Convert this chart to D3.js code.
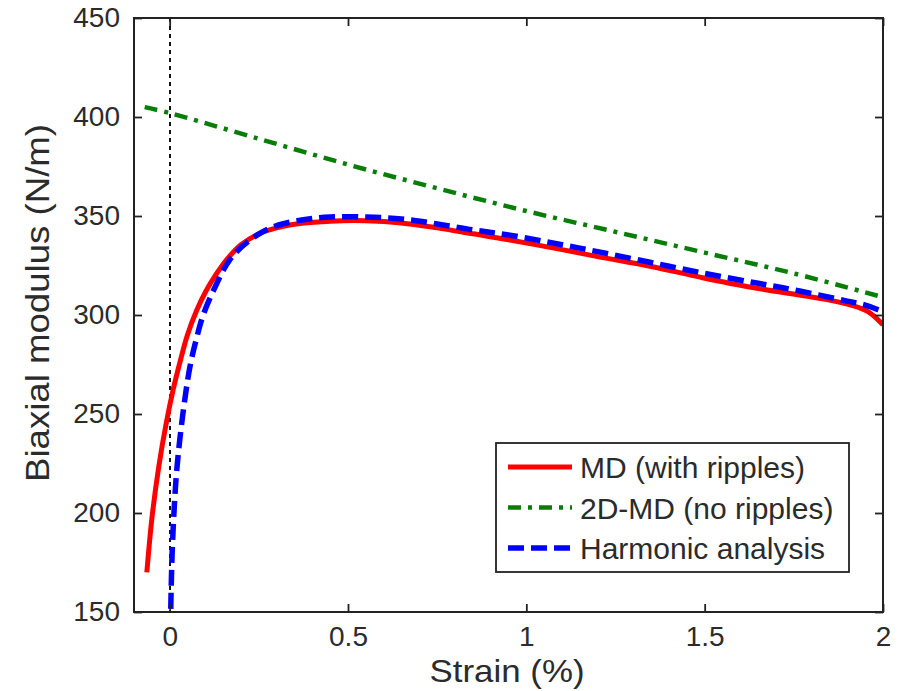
<!DOCTYPE html>
<html>
<head>
<meta charset="utf-8">
<script src="https://cdn.jsdelivr.net/npm/d3@7"></script>
<style>
  body { margin: 0; background: #fff; }
  text { font-family: "Liberation Sans", Arial, sans-serif; fill: #2b2b2b; }
</style>
</head>
<body>
<div id="chart"></div>
<script>
// Strain (%) / biaxial modulus (N/m)
const mdStrain   = [-0.064, -0.05, -0.03, -0.01, 0.01, 0.03, 0.05, 0.075, 0.1, 0.13, 0.16, 0.2, 0.25, 0.3, 0.37, 0.45, 0.55, 0.65, 0.75, 0.85, 0.95, 1.1, 1.2, 1.35, 1.49, 1.63, 1.77, 1.85, 1.91, 1.96, 2.0];
const mdModulus  = [170, 197, 224, 245, 262.5, 277, 290, 302, 311.5, 320.5, 328, 335.5, 341, 344, 346.3, 347.4, 347.6, 346.5, 344, 341, 338, 333, 329.5, 324.5, 319, 314, 310, 307.5, 305, 301.5, 295];

const md2dStrain  = [-0.07, 0, 0.25, 0.5, 0.75, 1.0, 1.25, 1.5, 1.75, 2.0];
const md2dModulus = [405, 402, 389, 376, 364, 352.5, 342, 331.5, 321, 309];

const harmStrain  = [0.002, 0.004, 0.007, 0.012, 0.02, 0.037, 0.057, 0.075, 0.094, 0.127, 0.169, 0.226, 0.29, 0.37, 0.45, 0.55, 0.65, 0.75, 0.85, 0.95, 1.1, 1.2, 1.35, 1.5, 1.65, 1.77, 1.9, 1.95, 2.0];
const harmModulus = [140, 160, 180, 200, 222, 250, 274, 288, 300, 314, 328, 338, 344.5, 348, 349.5, 349.5, 348.5, 346, 343, 340.4, 335.5, 332, 326.5, 321, 316, 312, 307, 305, 301.7];

const xTicks = [0, 0.5, 1, 1.5, 2];
const yTicks = [150, 200, 250, 300, 350, 400, 450];
const legendLabels = ["MD (with ripples)", "2D-MD (no ripples)", "Harmonic analysis"];

const width = 900, height = 691;
const plotLeft = 134, plotRight = 883, plotTop = 18, plotBottom = 612;

const svg = d3.select("#chart").append("svg")
    .attr("width", width)
    .attr("height", height);

const x = d3.scaleLinear().domain([-0.1, 2]).range([plotLeft, plotRight]);
const y = d3.scaleLinear().domain([150, 450]).range([plotBottom, plotTop]);

// clip so the harmonic curve stops at the axis
svg.append("clipPath").attr("id", "plotClip")
   .append("rect")
   .attr("x", plotLeft).attr("y", plotTop)
   .attr("width", plotRight - plotLeft).attr("height", plotBottom - plotTop);

// zero strain marker
svg.append("line")
   .attr("x1", Math.round(x(0))).attr("x2", Math.round(x(0)))
   .attr("y1", y(450)).attr("y2", y(150))
   .attr("stroke", "#111")
   .attr("stroke-width", 2)
   .attr("stroke-dasharray", "4,4");

const line = d3.line()
    .x(d => x(d[0]))
    .y(d => y(d[1]))
    .curve(d3.curveCatmullRom.alpha(0.5));

const series = [
    { label: legendLabels[0], xs: mdStrain, ys: mdModulus, color: "#ff0000", dash: null, w: 5 },
    { label: legendLabels[1], xs: md2dStrain, ys: md2dModulus, color: "#087d08", dash: "13,7,4,7", w: 4.5 },
    { label: legendLabels[2], xs: harmStrain, ys: harmModulus, color: "#0000ff", dash: "16,7", w: 5.5 }
];

const plot = svg.append("g").attr("clip-path", "url(#plotClip)");

series.forEach(s => {
    plot.append("path")
        .datum(s.xs.map((v, i) => [v, s.ys[i]]))
        .attr("d", line)
        .attr("fill", "none")
        .attr("stroke", s.color)
        .attr("stroke-width", s.w)
        .attr("stroke-dasharray", s.dash);
});

// axes, ticks inside on all four sides
const tickLen = 8;
svg.append("g")
   .attr("transform", `translate(0,${plotBottom})`)
   .call(d3.axisBottom(x).tickValues(xTicks).tickSizeInner(-tickLen).tickSizeOuter(0).tickPadding(14).tickFormat(d3.format("")))
   .call(g => g.selectAll("text").style("font-size", "28px").attr("fill", "#2b2b2b"));

svg.append("g")
   .attr("transform", `translate(${plotLeft},0)`)
   .call(d3.axisLeft(y).tickValues(yTicks).tickSizeInner(-tickLen).tickSizeOuter(0).tickPadding(14))
   .call(g => g.selectAll("text").style("font-size", "28px").attr("fill", "#2b2b2b"));

svg.append("g")
   .attr("transform", `translate(0,${plotTop})`)
   .call(d3.axisTop(x).tickValues(xTicks).tickSizeInner(-tickLen).tickSizeOuter(0).tickFormat(""));

svg.append("g")
   .attr("transform", `translate(${plotRight},0)`)
   .call(d3.axisRight(y).tickValues(yTicks).tickSizeInner(-tickLen).tickSizeOuter(0).tickFormat(""));

svg.selectAll(".domain").remove();
svg.selectAll(".tick line").attr("stroke", "#222").attr("stroke-width", 1.8);

svg.append("rect")
   .attr("x", plotLeft).attr("y", plotTop)
   .attr("width", plotRight - plotLeft).attr("height", plotBottom - plotTop)
   .attr("fill", "none")
   .attr("stroke", "#222")
   .attr("stroke-width", 2);

// axis titles
svg.append("text")
   .attr("x", 507)
   .attr("y", 682)
   .attr("text-anchor", "middle")
   .attr("textLength", 155)
   .attr("lengthAdjust", "spacingAndGlyphs")
   .style("font-size", "32px")
   .text("Strain (%)");

svg.append("text")
   .attr("transform", `translate(49,303) rotate(-90)`)
   .attr("text-anchor", "middle")
   .attr("textLength", 358)
   .attr("lengthAdjust", "spacingAndGlyphs")
   .style("font-size", "33px")
   .text("Biaxial modulus (N/m)");

// legend
const legend = svg.append("g");
legend.append("rect")
   .attr("x", 496).attr("y", 443)
   .attr("width", 353).attr("height", 129)
   .attr("fill", "#fff")
   .attr("stroke", "#222")
   .attr("stroke-width", 1.8);

series.forEach((s, i) => {
    const cy = 467 + i * 40.5;
    legend.append("line")
        .attr("x1", 508).attr("x2", 572)
        .attr("y1", cy).attr("y2", cy)
        .attr("stroke", s.color)
        .attr("stroke-width", s.w)
        .attr("stroke-dasharray", s.dash);
    legend.append("text")
        .attr("x", 580).attr("y", cy + 11)
        .style("font-size", "30px")
        .text(s.label);
});
</script>
</body>
</html>
